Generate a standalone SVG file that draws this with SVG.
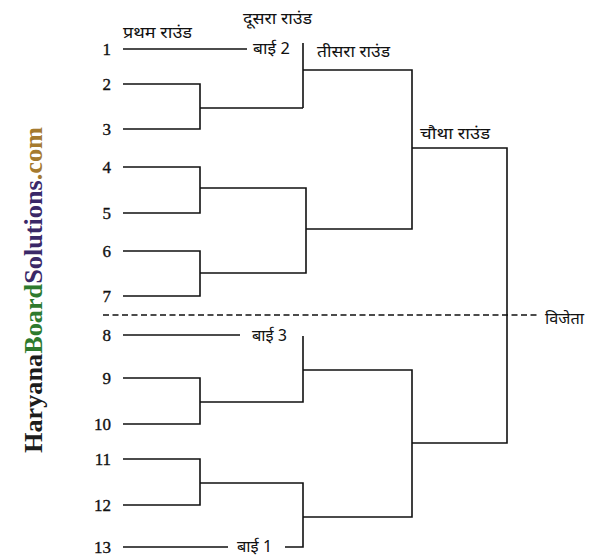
<svg xmlns="http://www.w3.org/2000/svg" width="595" height="558" viewBox="0 0 595 558">
<style>
.ln{fill:none;stroke:#111;stroke-width:1.6}
.dash{fill:none;stroke:#111;stroke-width:1.4;stroke-dasharray:6 3.5}
.num{font-family:"Liberation Serif","Times New Roman",serif;font-size:17px;fill:#111;stroke:#111;stroke-width:0.35;text-anchor:end}
.hi{font-family:"Noto Sans Devanagari","Noto Sans","Lohit Devanagari",sans-serif;font-size:16px;fill:#111}
.wm{font-family:"Liberation Serif","Times New Roman",serif;font-weight:bold;font-size:26px}
</style>
<rect width="595" height="558" fill="#fff"/>
<g id="watermark" transform="translate(42,453) rotate(-90)">
<text class="wm" x="0" y="0" textLength="326" lengthAdjust="spacingAndGlyphs"><tspan fill="#1c1c1c">Haryana</tspan><tspan fill="#2e7a2e">Board</tspan><tspan fill="#3a2868">Solutions</tspan><tspan fill="#a57a2f">.com</tspan></text>
</g>
<g id="headers">
<text class="hi" x="123" y="38" textLength="69" lengthAdjust="spacingAndGlyphs">प्रथम राउंड</text>
<text class="hi" x="243" y="24" textLength="69" lengthAdjust="spacingAndGlyphs">दूसरा राउंड</text>
<text class="hi" x="317" y="57" textLength="73" lengthAdjust="spacingAndGlyphs">तीसरा राउंड</text>
<text class="hi" x="420" y="139" textLength="70" lengthAdjust="spacingAndGlyphs">चौथा राउंड</text>
<text class="hi" x="545" y="324" textLength="39" lengthAdjust="spacingAndGlyphs">विजेता</text>
</g>
<g id="teams">
<text class="num" x="111" y="55">1</text>
<text class="num" x="111" y="90">2</text>
<text class="num" x="111" y="135">3</text>
<text class="num" x="111" y="173">4</text>
<text class="num" x="111" y="219">5</text>
<text class="num" x="111" y="257">6</text>
<text class="num" x="111" y="302">7</text>
<text class="num" x="111" y="341">8</text>
<text class="num" x="111" y="384">9</text>
<text class="num" x="111" y="430">10</text>
<text class="num" x="111" y="465">11</text>
<text class="num" x="111" y="511">12</text>
<text class="num" x="111" y="553">13</text>
</g>
<g id="byes">
<text class="hi" x="253" y="54" textLength="37" lengthAdjust="spacingAndGlyphs">बाई 2</text>
<text class="hi" x="252" y="341" textLength="35" lengthAdjust="spacingAndGlyphs">बाई 3</text>
<text class="hi" x="237" y="552" textLength="35" lengthAdjust="spacingAndGlyphs">बाई 1</text>
</g>
<g id="connectors">
<path class="ln" d="M123 49H247"/>
<path class="ln" d="M123 84H200V129H123M200 108H303M303 43V108M303 70H412V229H306"/>
<path class="ln" d="M123 167H200V213H123M200 188H306V273H200M123 251H200V296H123"/>
<path class="ln" d="M412 148H507V443H412"/>
<path class="ln" d="M123 335H240"/>
<path class="ln" d="M303 336V402H200M123 378H200V424H123M303 370H412V517H303"/>
<path class="ln" d="M123 459H200V505H123M200 483H303V547H285M123 547H228"/>
<path class="dash" d="M103 315H537"/>
</g>
</svg>
